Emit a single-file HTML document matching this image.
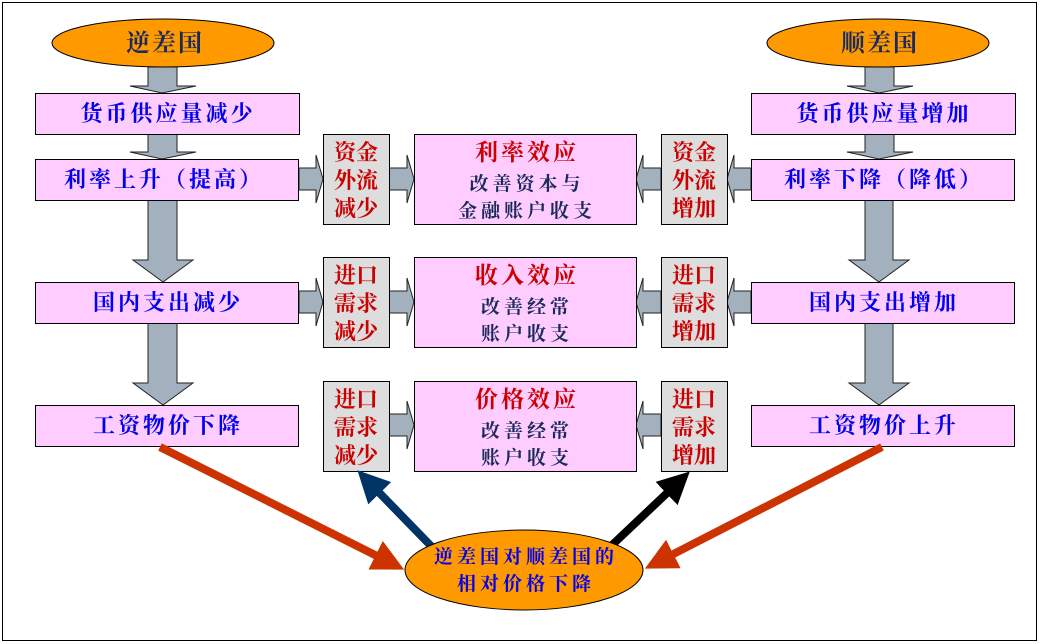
<!DOCTYPE html>
<html><head><meta charset="utf-8"><style>
html,body{margin:0;padding:0;background:#fff}
svg{display:block}
text{font-family:"Liberation Serif","Noto Serif CJK SC",serif;font-weight:bold}
</style></head><body>
<svg width="1040" height="644" viewBox="0 0 1040 644" xmlns="http://www.w3.org/2000/svg">
<defs>
<marker id="mo" markerWidth="4" markerHeight="4" refX="3" refY="2" orient="auto" markerUnits="strokeWidth"><path d="M0,0 L4,2 L0,4 Z" fill="#cc3300"/></marker>
<marker id="mb" markerWidth="4" markerHeight="4" refX="3" refY="2" orient="auto" markerUnits="strokeWidth"><path d="M0,0 L4,2 L0,4 Z" fill="#003366"/></marker>
<marker id="mk" markerWidth="4" markerHeight="4" refX="3" refY="2" orient="auto" markerUnits="strokeWidth"><path d="M0,0 L4,2 L0,4 Z" fill="#000"/></marker>
</defs>
<rect x="2.5" y="2.5" width="1034" height="638" fill="#fff" stroke="#000" stroke-width="1"/>

<g fill="#a3b1bf" stroke="#222" stroke-width="1">
<path d="M148,67 H177 V86 H196 L162,93 L130,86 H148 Z"/>
<path d="M148,134 H177 V152 H196 L162,159 L130,152 H148 Z"/>
<path d="M148,200 H177 V260 H193 L163,282 L133,260 H148 Z"/>
<path d="M148,323 H177 V383 H193 L163,405 L133,383 H148 Z"/>
<path d="M865,67 H894 V86 H913 L879,93 L847,86 H865 Z"/>
<path d="M865,134 H894 V152 H913 L879,159 L847,152 H865 Z"/>
<path d="M865,200 H893 V260 H909 L879,282 L849,260 H865 Z"/>
<path d="M865,323 H893 V383 H909 L879,405 L849,383 H865 Z"/>
<path d="M299,168 H316 V155 L323,179 L316,203 V190 H299 Z"/>
<path d="M389,168 H407 V155 L414,179 L407,203 V190 H389 Z"/>
<path d="M299,291 H316 V278 L323,302 L316,326 V313 H299 Z"/>
<path d="M389,291 H407 V278 L414,302 L407,326 V313 H389 Z"/>
<path d="M389,414 H407 V401 L414,425 L407,449 V436 H389 Z"/>
<path d="M751,168 H734 V155 L727,179 L734,203 V190 H751 Z"/>
<path d="M661,168 H643 V155 L636,179 L643,203 V190 H661 Z"/>
<path d="M751,291 H734 V278 L727,302 L734,326 V313 H751 Z"/>
<path d="M661,291 H643 V278 L636,302 L643,326 V313 H661 Z"/>
<path d="M661,414 H643 V401 L636,425 L643,449 V436 H661 Z"/>
</g>

<ellipse cx="163" cy="43" rx="111" ry="24" fill="#ff9900" stroke="#000"/>
<ellipse cx="878" cy="43" rx="111" ry="24" fill="#ff9900" stroke="#000"/>

<g fill="#ffccff" stroke="#000" stroke-width="1">
<rect x="35.5" y="93.5" width="264" height="41"/>
<rect x="35.5" y="159.5" width="263" height="41"/>
<rect x="35.5" y="282.5" width="263" height="41"/>
<rect x="35.5" y="405.5" width="263" height="41"/>
<rect x="751.5" y="93.5" width="264" height="41"/>
<rect x="751.5" y="159.5" width="263" height="41"/>
<rect x="751.5" y="282.5" width="263" height="41"/>
<rect x="751.5" y="405.5" width="263" height="41"/>
<rect x="414.5" y="134.5" width="222" height="90"/>
<rect x="414.5" y="257.5" width="222" height="90"/>
<rect x="414.5" y="381.5" width="222" height="90"/>
</g>
<g fill="#dddddd" stroke="#000" stroke-width="1">
<rect x="323.5" y="134.5" width="66" height="90"/>
<rect x="323.5" y="257.5" width="66" height="90"/>
<rect x="323.5" y="381.5" width="66" height="90"/>
<rect x="661.5" y="134.5" width="66" height="90"/>
<rect x="661.5" y="257.5" width="66" height="90"/>
<rect x="661.5" y="381.5" width="66" height="90"/>
</g>

<line x1="160" y1="447" x2="397" y2="566" stroke="#cc3300" stroke-width="8" marker-end="url(#mo)"/>
<line x1="882" y1="447" x2="652" y2="565" stroke="#cc3300" stroke-width="8" marker-end="url(#mo)"/>
<line x1="432" y1="547" x2="363" y2="476" stroke="#003366" stroke-width="8" marker-end="url(#mb)"/>
<line x1="610" y1="547" x2="684" y2="477" stroke="#000" stroke-width="8" marker-end="url(#mk)"/>

<ellipse cx="524" cy="570" rx="119" ry="40" fill="#ff9900" stroke="#000"/>

<g text-anchor="middle" font-size="22" fill="#0000ee" letter-spacing="3">
<text x="165" y="51" fill="#1a2a5a" font-size="24" letter-spacing="2">逆差国</text>
<text x="880" y="51" fill="#1a2a5a" font-size="24" letter-spacing="2">顺差国</text>
<text x="168" y="121">货币供应量减少</text>
<text x="164" y="187">利率上升（提高）</text>
<text x="168" y="310">国内支出减少</text>
<text x="168" y="433">工资物价下降</text>
<text x="884" y="121">货币供应量增加</text>
<text x="884" y="187">利率下降（降低）</text>
<text x="884" y="310">国内支出增加</text>
<text x="884" y="433">工资物价上升</text>
</g>
<g text-anchor="middle" font-size="22" fill="#cc0000">
<text x="356" y="160">资金</text><text x="356" y="188">外流</text><text x="356" y="216">减少</text>
<text x="356" y="283">进口</text><text x="356" y="311">需求</text><text x="356" y="339">减少</text>
<text x="356" y="407">进口</text><text x="356" y="435">需求</text><text x="356" y="463">减少</text>
<text x="694" y="160">资金</text><text x="694" y="188">外流</text><text x="694" y="216">增加</text>
<text x="694" y="283">进口</text><text x="694" y="311">需求</text><text x="694" y="339">增加</text>
<text x="694" y="407">进口</text><text x="694" y="435">需求</text><text x="694" y="463">增加</text>
<text x="527" y="160" font-size="23" letter-spacing="3">利率效应</text>
<text x="527" y="283" font-size="23" letter-spacing="3">收入效应</text>
<text x="527" y="407" font-size="23" letter-spacing="3">价格效应</text>
</g>
<g text-anchor="middle" font-size="19" fill="#1a2a5a" letter-spacing="4">
<text x="527" y="190">改善资本与</text><text x="527" y="217">金融账户收支</text>
<text x="527" y="313">改善经常</text><text x="527" y="340">账户收支</text>
<text x="527" y="437">改善经常</text><text x="527" y="464">账户收支</text>
</g>
<g text-anchor="middle" font-size="19" fill="#0000ee" letter-spacing="4">
<text x="526" y="563">逆差国对顺差国的</text>
<text x="526" y="590">相对价格下降</text>
</g>
</svg>
</body></html>
